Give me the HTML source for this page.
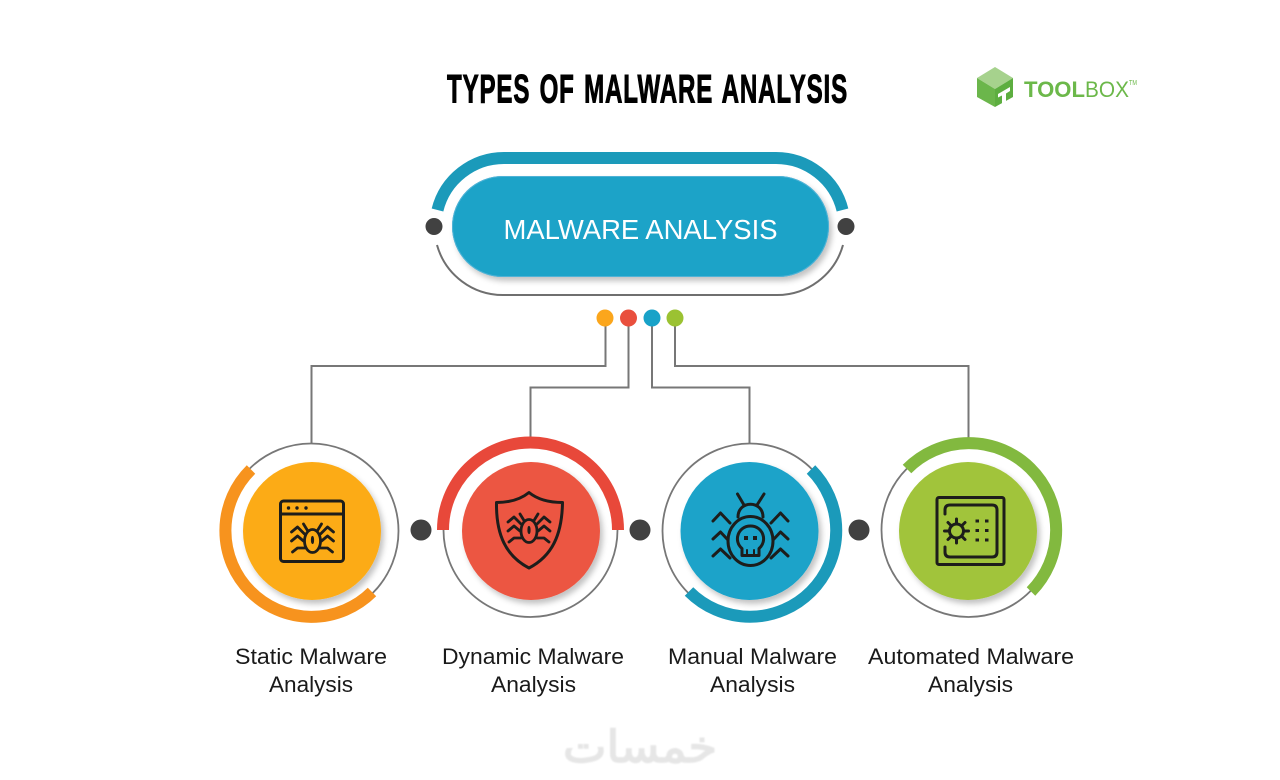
<!DOCTYPE html>
<html><head><meta charset="utf-8">
<style>html,body{margin:0;padding:0;background:#fff;width:1280px;height:780px;overflow:hidden}svg{display:block}
text{font-family:"Liberation Sans","DejaVu Sans",sans-serif}</style></head>
<body>
<svg width="1280" height="780" viewBox="0 0 1280 780" xmlns="http://www.w3.org/2000/svg">
<defs>
<filter id="s" x="-20%" y="-20%" width="150%" height="150%"><feDropShadow dx="3" dy="4" stdDeviation="3" flood-color="#000" flood-opacity=".24"/></filter>
<filter id="b" x="-10%" y="-10%" width="120%" height="130%"><feGaussianBlur stdDeviation=".7"/></filter>
<g id="bug" fill="none" stroke="#1d1d1b" stroke-width="2.800" stroke-linecap="round" stroke-linejoin="round">
<ellipse cx="0" cy="0" rx="8" ry="11.500"/>
<ellipse cx="0" cy="-1" rx="1" ry="3.500" fill="#1d1d1b" stroke-width="1.200"/>
<path d="M-5-10.500-9-17M5-10.500 9-17"/>
<path d="M-8-7-15-14-21-9M8-7 15-14 21-9"/>
<path d="M-9 0-15-5-21 0M9 0 15-5 21 0"/>
<path d="M-8 7-15 7-20 11M8 7 15 7 20 11"/>
</g>
</defs>

<!-- title -->
<text x="447" y="102.500" font-size="40" font-weight="700" textLength="401" lengthAdjust="spacingAndGlyphs" fill="#000" stroke="#000" stroke-width="1" style="letter-spacing:1.400px;word-spacing:3px">TYPES OF MALWARE ANALYSIS</text>

<!-- logo -->
<path d="M995 67 1013 78 995 89 977 78Z" fill="#a6d28d"/>
<path d="M977 78 995 89V107L977 97Z" fill="#6bb64b"/>
<path d="M1013 78 995 89V107L1013 97Z" fill="#5dae40"/>
<path d="M998 94 1010 87V91L1006 93.500V102L1002 104V95.500L998 97.500Z" fill="#fff"/>
<text x="1024" y="97" font-size="22" font-weight="700" fill="#6cb84a" textLength="61" lengthAdjust="spacingAndGlyphs">TOOL</text>
<text x="1085" y="97" font-size="22" fill="#6cb84a" textLength="44" lengthAdjust="spacingAndGlyphs">BOX</text>
<text x="1129" y="85" font-size="7" fill="#6cb84a" textLength="8" lengthAdjust="spacingAndGlyphs">TM</text>

<!-- main pill -->
<path d="M437.500 210A68.500 68.500 0 0 1 504 158H776A68.500 68.500 0 0 1 842.500 210" fill="none" stroke="#1b9aba" stroke-width="12"/>
<path d="M437 245A68.500 68.500 0 0 0 504 295H776A68.500 68.500 0 0 0 843 245" fill="none" stroke="#6f6f6f" stroke-width="2"/>
<rect x="452" y="176" width="377" height="101" rx="50.500" fill="#1aa3c8" filter="url(#s)"/>
<rect x="452.500" y="176.500" width="376" height="100" rx="50" fill="none" stroke="#4fb2d6" stroke-width="1"/>
<text x="640.500" y="239" font-size="27.500" fill="#fff" text-anchor="middle" textLength="274" lengthAdjust="spacingAndGlyphs">MALWARE ANALYSIS</text>
<circle cx="434" cy="226.500" r="8.500" fill="#414141"/>
<circle cx="846" cy="226.500" r="8.500" fill="#414141"/>

<!-- connectors -->
<g fill="none" stroke="#777" stroke-width="2">
<path d="M605.500 318V366H311.500V443"/>
<path d="M628.500 318V387.500H530.500V438"/>
<path d="M652 318V387.500H749.500V443"/>
<path d="M675 318V366H968.500V438"/>
</g>
<circle cx="605" cy="318" r="8.500" fill="#fba61c"/>
<circle cx="628.500" cy="318" r="8.500" fill="#e94f3d"/>
<circle cx="652" cy="318" r="8.500" fill="#18a2c8"/>
<circle cx="675" cy="318" r="8.500" fill="#9bc232"/>

<!-- rings -->
<g fill="none" stroke="#777" stroke-width="1.800">
<circle cx="311" cy="531" r="87.500"/>
<circle cx="530.500" cy="530" r="87"/>
<circle cx="750" cy="531" r="87.500"/>
<circle cx="968.500" cy="530" r="87"/>
</g>
<g fill="none" stroke-width="12">
<path d="M251 469.500A86 86 0 0 0 372 592" stroke="#f7931e"/>
<path d="M443 530A87.500 87.500 0 0 1 618 530" stroke="#e8483a"/>
<path d="M811 469.500A86 86 0 0 1 689 591.500" stroke="#1b9aba"/>
<path d="M907 469A87 87 0 0 1 1031 591.500" stroke="#82b93f"/>
</g>

<circle cx="312" cy="531" r="69" fill="#fcab17" filter="url(#s)"/>
<circle cx="531" cy="531" r="69" fill="#ec5642" filter="url(#s)"/>
<circle cx="749.500" cy="531" r="69" fill="#1ba3c9" filter="url(#s)"/>
<circle cx="968" cy="531" r="69" fill="#a1c43a" filter="url(#s)"/>

<circle cx="421" cy="530" r="10.500" fill="#414141"/>
<circle cx="640" cy="530" r="10.500" fill="#414141"/>
<circle cx="859" cy="530" r="10.500" fill="#414141"/>

<!-- icon 1 -->
<g fill="none" stroke="#1d1d1b" stroke-width="3" stroke-linejoin="round">
<rect x="280.500" y="501" width="63" height="60.500" rx="3"/>
<path d="M280.500 514H343.500"/>
</g>
<g fill="#1d1d1b"><circle cx="288.500" cy="508" r="1.700"/><circle cx="297" cy="508" r="1.700"/><circle cx="306" cy="508" r="1.700"/></g>
<use href="#bug" x="312.500" y="541"/>

<!-- icon 2 -->
<path d="M529 492.500C521 499 510 502.500 496.500 502.500C496 535 506 556 529 568C552 556 562 535 562.500 502.500C548 502.500 537 499 529 492.500Z" fill="none" stroke="#1d1d1b" stroke-width="3" stroke-linejoin="round"/>
<use href="#bug" x="529" y="531"/>

<!-- icon 3 -->
<g fill="none" stroke="#1d1d1b" stroke-width="3" stroke-linecap="round" stroke-linejoin="round">
<ellipse cx="750.500" cy="541" rx="22.500" ry="24.500"/>
<path d="M738 517C738 500 763 500 763 517"/>
<path d="M744 505 737.500 494M757 505 764 494"/>
<path d="M730 523 720.500 513 713 521M771 523 780.500 513 788 521"/>
<path d="M728 540 720.500 532 713 539M773 540 780.500 532 788 539"/>
<path d="M730 558 720.500 549 713 556M771 558 780.500 549 788 556"/>
<path d="M742 555.500V548.500C733 541 738 526 750.500 526C763 526 768 541 759 548.500V555.500Z"/>
<path d="M747 550V555M754 550V555" stroke-width="2"/>
</g>
<rect x="744" y="536" width="4" height="4" fill="#1d1d1b"/><rect x="753" y="536" width="4" height="4" fill="#1d1d1b"/>

<!-- icon 4 -->
<g fill="none" stroke="#1d1d1b" stroke-width="3" stroke-linejoin="round" stroke-linecap="round">
<rect x="937" y="497.500" width="67" height="67" rx="2"/>
<path d="M945 514V510Q945 505 950 505H992Q997 505 997 510V552Q997 557 992 557H950Q945 557 945 552V547"/>
<circle cx="956.500" cy="531" r="7"/>
<path d="M956.500 519V523M956.500 539V543M944.500 531H948.500M964.500 531H968.500M948 522.500 951 525.500M962 536.500 965 539.500M948 539.500 951 536.500M962 525.500 965 522.500"/>
</g>
<g fill="#1d1d1b">
<rect x="975.500" y="519.500" width="3.500" height="3"/><rect x="985" y="519.500" width="3.500" height="3"/>
<rect x="975.500" y="529" width="3.500" height="3"/><rect x="985" y="529" width="3.500" height="3"/>
<rect x="975.500" y="538.500" width="3.500" height="3"/><rect x="985" y="538.500" width="3.500" height="3"/>
</g>

<!-- labels -->
<g font-size="22.500" fill="#1a1a1a" text-anchor="middle">
<text x="311" y="664" textLength="152" lengthAdjust="spacingAndGlyphs">Static Malware</text>
<text x="311" y="692" textLength="84" lengthAdjust="spacingAndGlyphs">Analysis</text>
<text x="533" y="664" textLength="182" lengthAdjust="spacingAndGlyphs">Dynamic Malware</text>
<text x="533.500" y="692" textLength="85" lengthAdjust="spacingAndGlyphs">Analysis</text>
<text x="752.500" y="664" textLength="169" lengthAdjust="spacingAndGlyphs">Manual Malware</text>
<text x="752.500" y="692" textLength="85" lengthAdjust="spacingAndGlyphs">Analysis</text>
<text x="971" y="664" textLength="206" lengthAdjust="spacingAndGlyphs">Automated Malware</text>
<text x="970.500" y="692" textLength="85" lengthAdjust="spacingAndGlyphs">Analysis</text>
</g>

<!-- watermark -->
<text x="640" y="762" font-size="44" fill="#e6e6e6" stroke="#e6e6e6" stroke-width="1.500" text-anchor="middle" direction="rtl" style="font-family:'DejaVu Sans',sans-serif" filter="url(#b)" textLength="154" lengthAdjust="spacingAndGlyphs">خمسات</text>
</svg>
</body></html>
